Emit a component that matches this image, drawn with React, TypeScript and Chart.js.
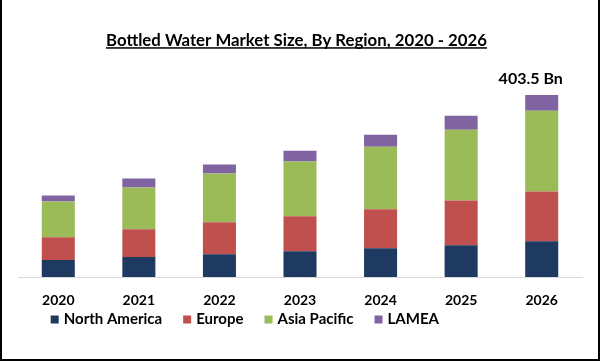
import React, { useEffect, useRef } from "react";
import { Chart, registerables } from "chart.js";

Chart.register(...registerables);

const categories = ["2020", "2021", "2022", "2023", "2024", "2025", "2026"];
const seriesNames = ["North America", "Europe", "Asia Pacific", "LAMEA"];
const northAmerica = [37.5, 44.1, 50.7, 57.3, 63.9, 70.6, 79.4];
const europe = [50.7, 61.7, 70.6, 77.2, 86.0, 99.2, 110.3];
const asiaPacific = [79.4, 92.6, 108.0, 121.3, 138.9, 156.6, 178.6];
const lamea = [13.2, 19.8, 19.8, 24.3, 26.5, 30.9, 35.2];
const seriesColors = ["#1F3A60", "#C0504D", "#9BBB59", "#8064A2"];
const titleText = "Bottled Water Market Size, By Region, 2020 - 2026";
const totalLabel = "403.5 Bn";
const yMax = 440;

const FONT = "Lato";

const decorPlugin = {
  id: "decor",
  beforeDraw(chart: any) {
    const ctx = chart.ctx;
    ctx.save();
    ctx.fillStyle = "#ffffff";
    ctx.fillRect(0, 0, chart.width, chart.height);
    ctx.restore();
  },
  afterDraw(chart: any) {
    const ctx = chart.ctx;
    ctx.save();
    // title with underline
    ctx.font = `bold 16.8px ${FONT}`;
    ctx.fillStyle = "#000000";
    ctx.textAlign = "center";
    ctx.textBaseline = "alphabetic";
    const tx = 296.5;
    const ty = 45.5;
    ctx.fillText(titleText, tx, ty);
    const tw = ctx.measureText(titleText).width;
    ctx.fillRect(tx - tw / 2, 47.2, tw, 1.5);

    // total label above last stack
    const lastMeta = chart.getDatasetMeta(chart.data.datasets.length - 1);
    const lastBar = lastMeta.data[lastMeta.data.length - 1];
    ctx.font = `bold 16px ${FONT}`;
    ctx.textBaseline = "middle";
    ctx.fillText(totalLabel, lastBar.x - 11, lastBar.y - 16);

    // legend
    ctx.font = `bold 15px ${FONT}`;
    ctx.textAlign = "left";
    ctx.textBaseline = "alphabetic";
    let x = 50.7;
    chart.data.datasets.forEach((ds: any) => {
      ctx.fillStyle = ds.backgroundColor;
      ctx.fillRect(x, 315.5, 8, 8);
      ctx.fillStyle = "#000000";
      ctx.fillText(ds.label, x + 13, 324.3);
      x += 13 + ctx.measureText(ds.label).width + 21;
    });

    // border
    ctx.fillStyle = "#000000";
    ctx.fillRect(0, 0, 2, chart.height);
    ctx.fillRect(chart.width - 2, 0, 2, chart.height);
    ctx.fillRect(0, chart.height - 2, chart.width, 2);
    ctx.restore();
  },
};

export default function App() {
  const canvasRef = useRef<HTMLCanvasElement | null>(null);

  useEffect(() => {
    if (!canvasRef.current) return;
    const seriesValues = [northAmerica, europe, asiaPacific, lamea];
    const chart = new Chart(canvasRef.current, {
      type: "bar",
      data: {
        labels: categories,
        datasets: seriesNames.map((name, i) => ({
          label: name,
          data: seriesValues[i],
          backgroundColor: seriesColors[i],
          borderWidth: 0,
          barPercentage: 0.41,
          categoryPercentage: 1,
        })),
      },
      options: {
        animation: false,
        responsive: false,
        maintainAspectRatio: false,
        devicePixelRatio: 1,
        layout: {
          padding: { left: 18, right: 18, top: 78.5, bottom: 37.2 },
        },
        plugins: {
          legend: { display: false },
          title: { display: false },
          tooltip: { enabled: false },
        },
        scales: {
          x: {
            stacked: true,
            grid: { display: false, drawTicks: false },
            border: { display: true, color: "#d9d9d9", width: 1 },
            ticks: {
              color: "#000000",
              font: { family: FONT, size: 14, weight: "bold" },
              padding: 15,
              maxRotation: 0,
            },
          },
          y: {
            stacked: true,
            display: false,
            min: 0,
            max: yMax,
          },
        },
      },
      plugins: [decorPlugin],
    });
    return () => chart.destroy();
  }, []);

  return (
    <div style={{ position: "absolute", left: 0, top: 0, width: 600, height: 361 }}>
      <canvas ref={canvasRef} width={600} height={361} style={{ display: "block" }} />
    </div>
  );
}
